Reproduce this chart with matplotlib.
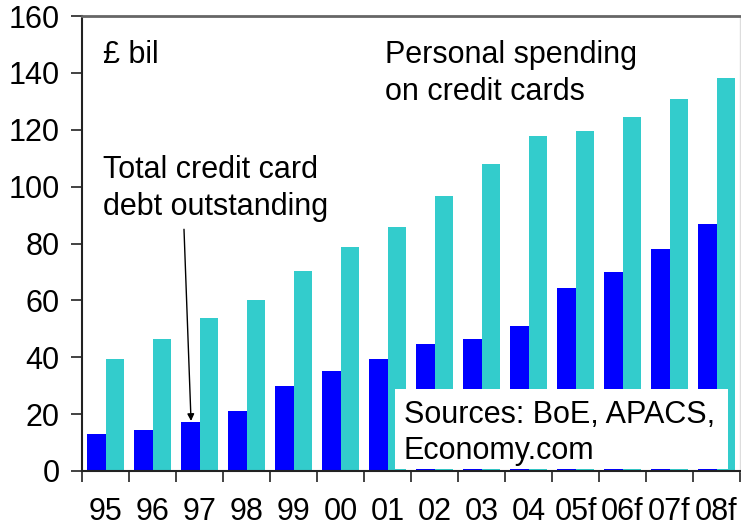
import matplotlib
matplotlib.use("Agg")
import matplotlib.pyplot as plt
from matplotlib.patches import Rectangle
import numpy as np

plt.rcParams['font.family'] = ['Liberation Sans', 'DejaVu Sans']

years = ['95', '96', '97', '98', '99', '00', '01', '02', '03', '04',
         '05f', '06f', '07f', '08f']
debt = [13.0, 14.4, 17.2, 21.1, 29.9, 35.3, 39.4, 44.7, 46.4, 51.0,
        64.3, 70.0, 78.1, 86.8]
spending = [39.4, 46.4, 53.8, 60.1, 70.3, 78.8, 85.9, 96.7, 107.9, 117.8,
            119.5, 124.5, 130.8, 138.2]

fig = plt.figure(figsize=(7.41, 5.28), dpi=100)
ax = fig.add_axes([82 / 741, 1 - 471 / 528, 658 / 741, 455 / 528])

x = np.arange(len(years))
ax.bar(x - 0.2, debt, width=0.4, color='#0000ff', zorder=2)
ax.bar(x + 0.2, spending, width=0.4, color='#33cccc', zorder=2)

ax.set_xlim(-0.5, len(years) - 0.5)
ax.set_ylim(0, 160)
ax.set_yticks(range(0, 161, 20))
ax.tick_params(axis='y', direction='out', length=8, width=1.2, pad=8,
               labelsize=22, colors='#222222', labelcolor='black')

# ticks between groups, labels at group centres
ax.set_xticks(np.arange(-0.5, len(years), 1.0))
ax.set_xticklabels([])
ax.set_xticks(x, minor=True)
ax.set_xticklabels(years, minor=True, fontsize=22)
ax.tick_params(axis='x', which='major', direction='out', length=8, width=1.2,
               colors='#222222')
ax.tick_params(axis='x', which='minor', length=0, pad=19)

for side in ['left', 'bottom']:
    ax.spines[side].set_color('#222222')
    ax.spines[side].set_linewidth(1.5)
ax.spines['top'].set_color('#666666')
ax.spines['top'].set_linewidth(2)
ax.spines['right'].set_color('#dddddd')
ax.spines['right'].set_linewidth(1)

fs = 22
ax.text(-0.06, 143.5, '£ bil', fontsize=fs, va='baseline', ha='left')
ax.text(5.95, 143.5, 'Personal spending', fontsize=fs, va='baseline', ha='left')
ax.text(5.95, 130.5, 'on credit cards', fontsize=fs, va='baseline', ha='left')
ax.text(-0.06, 103.0, 'Total credit card', fontsize=fs, va='baseline', ha='left')
ax.text(-0.06, 90.0, 'debt outstanding', fontsize=fs, va='baseline', ha='left')

ax.annotate('', xy=(1.82, 17.6), xytext=(1.67, 85.0),
            arrowprops=dict(arrowstyle='-|>', color='black', lw=1,
                            mutation_scale=10, shrinkA=0, shrinkB=0),
            zorder=3)

# sources box
ax.add_patch(Rectangle((0.4757, 0.0044), 0.506, 0.1756, transform=ax.transAxes,
                       facecolor='white', edgecolor='none', zorder=4))
ax.text(6.35, 16.9, 'Sources: BoE, APACS,', fontsize=fs, va='baseline',
        ha='left', zorder=5)
ax.text(6.35, 4.2, 'Economy.com', fontsize=fs, va='baseline', ha='left',
        zorder=5)

fig.savefig('out.png', dpi=100)
